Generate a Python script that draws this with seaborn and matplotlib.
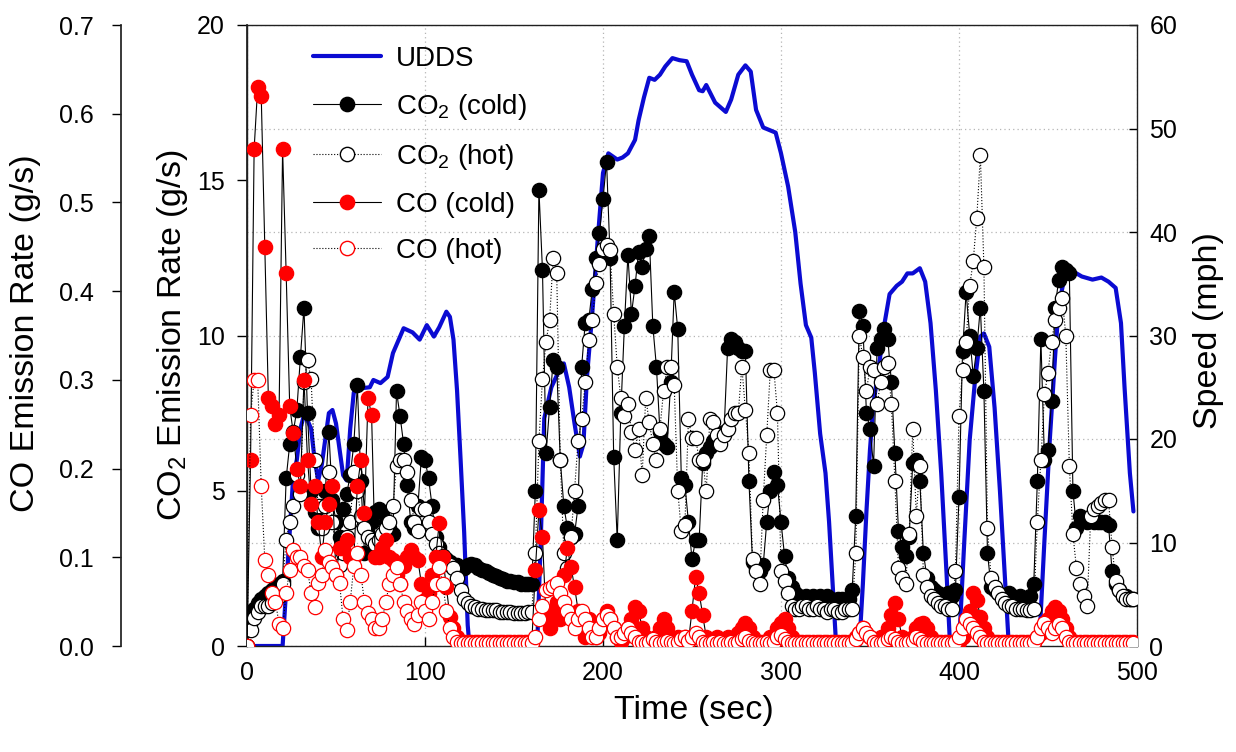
import numpy as np
import matplotlib
matplotlib.use("Agg")
import matplotlib.pyplot as plt
import seaborn as sns
from matplotlib.lines import Line2D
from matplotlib.ticker import FormatStrFormatter

sns.set_theme(style="ticks", rc={"axes.edgecolor": "black", "text.color": "black",
                                 "xtick.color": "black", "ytick.color": "black",
                                 "axes.labelcolor": "black"})
plt.rcParams['font.family'] = ['Liberation Sans', 'DejaVu Sans']
plt.rcParams['mathtext.default'] = 'regular'

# ---------------- data ----------------
# time axis of the emission series (s)
time_s = np.arange(0, 500, 2)

co2_cold = [
    0.0, 0.8, 1.2, 1.4, 1.5, 1.6, 1.7, 1.8, 1.9, 2.0,
    2.1, 5.4, 6.5, 6.9, 7.6, 9.3, 10.9, 7.5, 5.0, 4.3,
    3.8, 4.5, 5.0, 6.9, 4.7, 4.0, 3.5, 4.4, 4.9, 5.5,
    6.5, 8.4, 5.3, 3.0, 3.6, 4.0, 4.3, 4.4, 4.3, 4.0,
    3.8, 3.6, 8.2, 7.4, 6.5, 5.2, 4.0, 3.8, 4.5, 6.1,
    6.0, 5.4, 4.5, 3.5, 3.2, 2.9, 2.8, 2.7, 2.6, 2.6,
    2.5, 2.5, 2.6, 2.65, 2.6, 2.5, 2.45, 2.4, 2.35, 2.3,
    2.25, 2.2, 2.15, 2.1, 2.1, 2.05, 2.05, 2.0, 2.0, 2.0,
    2.0, 5.0, 14.7, 12.1, 6.2, 7.7, 9.2, 9.0, 6.0, 4.5,
    3.8, 3.5, 3.6, 4.5, 9.0, 10.4, 10.5, 11.5, 12.5, 13.3,
    14.4, 15.6, 12.5, 6.1, 3.4, 7.5, 10.3, 12.6, 10.7, 11.6,
    12.7, 12.2, 12.8, 13.2, 10.3, 9.0, 6.9, 6.5, 6.4, 8.5,
    11.4, 10.2, 5.4, 5.2, 4.0, 2.8, 3.4, 3.4, 5.9, 6.2,
    6.4, 6.6, 6.7, 6.8, 6.9, 9.6, 9.9, 9.8, 9.6, 9.5,
    9.5, 5.3, 2.7, 2.5, 2.4, 2.6, 4.0, 5.0, 5.6, 5.2,
    4.0, 2.9, 2.2, 1.9, 1.7, 1.6, 1.5, 1.6, 1.5, 1.6,
    1.5, 1.6, 1.5, 1.6, 1.5, 1.4, 1.5, 1.5, 1.4, 1.5,
    1.8, 4.2, 10.8, 10.3, 7.5, 7.0, 5.8, 9.6, 9.9, 10.2,
    9.9, 8.5, 6.2, 3.7, 3.2, 2.9, 3.5, 5.9, 6.0, 5.3,
    3.0, 2.2, 1.9, 1.8, 1.7, 1.6, 1.6, 1.7, 1.6, 1.8,
    4.8, 9.5, 11.4, 10.0, 8.7, 9.6, 10.9, 8.2, 3.0, 1.9,
    1.8, 1.7, 1.6, 1.6, 1.7, 1.6, 1.5, 1.6, 1.5, 1.5,
    1.6, 2.0, 5.3, 9.9, 6.0, 6.3, 7.9, 10.9, 11.8, 12.2,
    12.1, 12.0, 5.0, 3.8, 4.2, 4.1, 4.0, 4.1, 4.0, 4.0,
    4.0, 4.0, 3.9, 2.4, 2.0, 1.8, 1.6, 1.6, 1.5, 1.5,
]

co2_hot = [
    0.0, 0.5, 0.9, 1.1, 1.3, 1.3, 1.3, 1.4, 1.5, 1.6,
    2.0, 3.4, 4.0, 4.5, 5.5, 4.9, 8.5, 9.2, 8.6, 6.0,
    4.5, 3.8, 4.5, 5.6, 4.0, 3.0, 2.6, 3.0, 3.5, 4.0,
    5.6, 5.0, 4.2, 3.8, 3.5, 3.4, 3.3, 3.4, 3.6, 3.8,
    4.0, 4.5, 5.8, 6.0, 6.0, 5.6, 4.7, 4.0, 3.7, 4.4,
    4.4, 4.0, 3.6, 3.3, 3.0, 2.9, 2.7, 2.6, 2.5, 2.2,
    1.8, 1.5, 1.4, 1.3, 1.25, 1.2, 1.2, 1.15, 1.15, 1.15,
    1.15, 1.1, 1.1, 1.1, 1.1, 1.05, 1.05, 1.05, 1.05, 1.1,
    1.1, 3.0, 6.6, 8.6, 9.8, 10.5, 12.5, 12.0, 6.0, 3.0,
    2.5, 3.5, 5.0, 6.6, 7.3, 8.5, 9.85, 10.5, 11.7, 12.3,
    12.8, 12.9, 12.75, 10.7, 9.0, 8.0, 7.4, 7.8, 6.9, 6.3,
    7.0, 5.5, 8.0, 7.2, 6.5, 6.0, 7.0, 8.2, 9.0, 9.0,
    8.4, 5.0, 3.7, 3.9, 7.3, 6.7, 6.7, 6.0, 6.0, 5.0,
    7.3, 7.2, 6.8, 6.5, 6.8, 7.0, 7.3, 7.5, 7.5, 9.0,
    7.6, 6.2, 2.8, 2.4, 2.0, 4.7, 6.8, 8.9, 8.9, 7.5,
    2.4, 2.1, 1.7, 1.3, 1.2, 1.2, 1.3, 1.3, 1.2, 1.2,
    1.3, 1.2, 1.2, 1.1, 1.2, 1.2, 1.1, 1.1, 1.2, 1.2,
    1.2, 3.0, 10.0, 9.3, 8.2, 9.0, 8.9, 7.8, 8.5, 9.0,
    9.1, 7.8, 5.3, 2.5, 2.2, 2.0, 3.6, 7.0, 4.2, 5.8,
    2.3, 1.9, 1.6, 1.5, 1.4, 1.3, 1.3, 1.2, 1.2, 2.4,
    7.4, 8.9, 9.8, 11.6, 12.4, 13.8, 15.8, 12.2, 3.8, 2.2,
    1.9, 1.7, 1.5, 1.4, 1.3, 1.3, 1.2, 1.2, 1.2, 1.15,
    1.15, 1.2, 4.0, 6.0, 8.1, 8.8, 9.8, 10.5, 10.9, 11.2,
    10.0, 5.8, 3.6, 2.5, 2.0, 1.6, 1.3, 4.2, 4.4, 4.5,
    4.6, 4.7, 4.7, 3.2, 2.1, 1.8, 1.6, 1.5, 1.5, 1.5,
]

co_cold = [
    0.0, 0.21, 0.56, 0.63, 0.62, 0.45, 0.28, 0.27, 0.25, 0.26,
    0.56, 0.42, 0.27, 0.24, 0.2, 0.18, 0.30, 0.21, 0.16, 0.18,
    0.14, 0.10, 0.14, 0.16, 0.18, 0.08, 0.11, 0.11, 0.12, 0.10,
    0.10, 0.18, 0.21, 0.15, 0.28, 0.26, 0.10, 0.10, 0.11, 0.12,
    0.10, 0.097, 0.08, 0.07, 0.09, 0.10, 0.108, 0.10, 0.097, 0.07,
    0.052, 0.06, 0.08, 0.10, 0.139, 0.10, 0.067, 0.033, 0.02, 0.01,
    0.004, 0.004, 0.004, 0.004, 0.004, 0.004, 0.004, 0.004, 0.004, 0.004,
    0.004, 0.004, 0.004, 0.004, 0.004, 0.004, 0.004, 0.004, 0.004, 0.004,
    0.004, 0.086, 0.153, 0.123, 0.03, 0.02, 0.04, 0.05, 0.03, 0.08,
    0.11, 0.089, 0.067, 0.04, 0.02, 0.01, 0.03, 0.02, 0.01, 0.015,
    0.03, 0.04, 0.03, 0.02, 0.01, 0.005, 0.01, 0.02, 0.03, 0.044,
    0.04, 0.02, 0.01, 0.005, 0.005, 0.01, 0.02, 0.03, 0.02, 0.01,
    0.005, 0.01, 0.005, 0.01, 0.005, 0.04, 0.078, 0.06, 0.035, 0.01,
    0.005, 0.005, 0.01, 0.005, 0.005, 0.01, 0.005, 0.01, 0.015, 0.02,
    0.026, 0.02, 0.01, 0.005, 0.005, 0.005, 0.005, 0.01, 0.01, 0.02,
    0.026, 0.03, 0.02, 0.01, 0.005, 0.004, 0.004, 0.004, 0.004, 0.004,
    0.004, 0.004, 0.005, 0.004, 0.004, 0.005, 0.004, 0.004, 0.005, 0.004,
    0.005, 0.01, 0.015, 0.02, 0.015, 0.01, 0.005, 0.005, 0.01, 0.005,
    0.02, 0.035, 0.048, 0.03, 0.01, 0.005, 0.005, 0.01, 0.02, 0.025,
    0.026, 0.02, 0.01, 0.005, 0.005, 0.004, 0.004, 0.005, 0.004, 0.004,
    0.005, 0.01, 0.02, 0.04, 0.06, 0.052, 0.033, 0.02, 0.01, 0.005,
    0.004, 0.004, 0.005, 0.004, 0.004, 0.005, 0.004, 0.004, 0.005, 0.004,
    0.004, 0.005, 0.01, 0.015, 0.02, 0.03, 0.04, 0.044, 0.04, 0.03,
    0.02, 0.01, 0.005, 0.004, 0.004, 0.005, 0.004, 0.004, 0.005, 0.004,
    0.004, 0.004, 0.005, 0.004, 0.004, 0.005, 0.004, 0.004, 0.004, 0.004,
]

co_hot = [
    0.0, 0.26, 0.30, 0.30, 0.18, 0.097, 0.08, 0.06, 0.05, 0.025,
    0.02, 0.06, 0.086, 0.108, 0.10, 0.10, 0.09, 0.086, 0.06, 0.044,
    0.071, 0.08, 0.108, 0.095, 0.089, 0.08, 0.071, 0.03, 0.018, 0.05,
    0.09, 0.105, 0.08, 0.05, 0.037, 0.03, 0.02, 0.02, 0.03, 0.05,
    0.07, 0.08, 0.089, 0.07, 0.05, 0.04, 0.03, 0.025, 0.035, 0.05,
    0.04, 0.03, 0.05, 0.07, 0.089, 0.07, 0.04, 0.02, 0.01, 0.005,
    0.003, 0.003, 0.003, 0.003, 0.003, 0.003, 0.003, 0.003, 0.003, 0.003,
    0.003, 0.003, 0.003, 0.003, 0.003, 0.003, 0.003, 0.003, 0.003, 0.003,
    0.003, 0.01, 0.03, 0.045, 0.063, 0.065, 0.068, 0.071, 0.06, 0.05,
    0.04, 0.03, 0.02, 0.03, 0.04, 0.03, 0.02, 0.01, 0.01, 0.02,
    0.03, 0.035, 0.03, 0.02, 0.01, 0.01, 0.015, 0.02, 0.015, 0.01,
    0.005, 0.004, 0.003, 0.005, 0.008, 0.005, 0.003, 0.004, 0.006, 0.004,
    0.003, 0.005, 0.008, 0.01, 0.006, 0.01, 0.015, 0.01, 0.005, 0.003,
    0.003, 0.004, 0.003, 0.005, 0.003, 0.003, 0.004, 0.003, 0.005, 0.008,
    0.01, 0.006, 0.004, 0.003, 0.003, 0.003, 0.004, 0.003, 0.005, 0.01,
    0.012, 0.008, 0.005, 0.003, 0.003, 0.003, 0.003, 0.003, 0.003, 0.003,
    0.003, 0.003, 0.003, 0.003, 0.003, 0.003, 0.003, 0.003, 0.003, 0.003,
    0.003, 0.008, 0.015, 0.02, 0.015, 0.01, 0.005, 0.003, 0.003, 0.005,
    0.008, 0.01, 0.008, 0.005, 0.003, 0.003, 0.004, 0.006, 0.01, 0.008,
    0.005, 0.003, 0.003, 0.003, 0.003, 0.003, 0.003, 0.003, 0.003, 0.005,
    0.01, 0.02, 0.03, 0.025, 0.02, 0.015, 0.01, 0.005, 0.003, 0.003,
    0.003, 0.003, 0.003, 0.003, 0.003, 0.003, 0.003, 0.003, 0.003, 0.003,
    0.003, 0.005, 0.01, 0.02, 0.026, 0.02, 0.015, 0.02, 0.025, 0.02,
    0.01, 0.005, 0.003, 0.003, 0.003, 0.003, 0.003, 0.003, 0.003, 0.003,
    0.003, 0.003, 0.003, 0.003, 0.003, 0.003, 0.003, 0.003, 0.003, 0.003,
]

# UDDS speed trace (time s, speed mph)
speed_time = [0, 20, 22, 24, 26, 28, 30, 32, 34, 36, 38, 40, 42, 44, 46, 48, 50, 52, 54,
              56, 58, 60, 64, 69, 71, 75, 79, 82, 88, 93, 97, 101, 105, 108, 112, 114,
              116, 118, 120, 122, 124, 125, 163, 165, 167, 171, 175, 178, 181, 184, 187,
              189, 191, 194, 197, 200, 203, 208, 211, 214, 218, 220, 223, 226, 229, 232,
              235, 239, 243, 247, 250, 254, 256, 258, 263, 269, 272, 276, 280, 283, 286,
              290, 297, 300, 304, 308, 311, 314, 317, 319, 322, 325, 327, 329, 331, 344,
              346, 348, 350, 352, 355, 358, 361, 365, 368, 371, 374, 378, 381, 384, 387,
              390, 393, 395, 400, 403, 406, 409, 412, 414, 417, 420, 423, 426, 428, 445,
              448, 451, 454, 456, 460, 465, 469, 475, 480, 484, 488, 491, 493, 496, 498]
speed_mph = [0, 0, 5.5, 11, 16.5, 18, 21, 22.3, 21.8, 21, 18, 16, 17.5, 20, 22.5, 22.8, 21.5,
             19, 16.5, 16, 21, 24.5, 24.9, 25, 25.7, 25.4, 26, 28.3, 30.7, 30.3, 29.6, 31,
             29.9, 30.8, 32.3, 31.8, 29.6, 24.7, 18, 11, 2, 0, 0, 10, 22, 25, 26.5, 27.3,
             25, 21.5, 18.3, 19.5, 26, 32.2, 39.2, 45.7, 47.6, 47, 47.2, 47.6, 48.9, 50.8,
             53, 54.9, 54.7, 55.2, 56, 56.8, 56.6, 56.5, 55.2, 53.7, 53.6, 54.2, 52.5, 51.6,
             52.8, 55.2, 56.1, 55.5, 51.8, 50.1, 49.6, 47.6, 44.4, 40, 35, 31, 29.8, 26.4,
             20.5, 16.7, 12, 6, 0, 0, 6, 13, 19, 23.5, 27, 31, 34, 34.8, 35.2, 36, 36, 36.5,
             35.2, 31.2, 24.7, 16.7, 7, 0, 0, 10.2, 19.9, 25.7, 29.9, 30.2, 28.9, 23, 15,
             6, 0, 0, 10.2, 19.9, 28, 32.8, 36.3, 36.1, 35.7, 35.4, 35.6, 35.2, 34.6, 31.2,
             25, 16.7, 13]

x_ticks = [0, 100, 200, 300, 400, 500]
co2_ticks = [0, 5, 10, 15, 20]
co_ticks = [0.0, 0.1, 0.2, 0.3, 0.4, 0.5, 0.6, 0.7]
speed_ticks = [0, 10, 20, 30, 40, 50, 60]
legend_labels = ["UDDS", "CO$_2$ (cold)", "CO$_2$ (hot)", "CO (cold)", "CO (hot)"]

# ---------------- figure ----------------
W, H = 1236, 752
BLUE = "#0b0bd2"
RED = "#ff0000"
fig = plt.figure(figsize=(W / 100, H / 100), dpi=100)
L, R, T, B = 247, 1137, 25, 646
ax_spd = fig.add_axes([L / W, 1 - B / H, (R - L) / W, (B - T) / H])
ax_co2 = ax_spd.twinx()
ax_co = ax_spd.twinx()

MS = 10.3
MEW = 0.9
LW = 0.8

sns.lineplot(x=speed_time, y=speed_mph, ax=ax_spd, color=BLUE, linewidth=3.0,
             estimator=None, sort=False, legend=False)

sns.lineplot(x=time_s, y=co2_cold, ax=ax_co2, color="black", linewidth=LW,
             marker="o", markersize=MS, markerfacecolor="black",
             markeredgecolor="black", markeredgewidth=MEW,
             estimator=None, sort=False, legend=False)
sns.lineplot(x=time_s, y=co2_hot, ax=ax_co2, color="black", linewidth=LW, linestyle=":",
             marker="o", markersize=MS, markerfacecolor="white",
             markeredgecolor="black", markeredgewidth=MEW,
             estimator=None, sort=False, legend=False)
sns.lineplot(x=time_s, y=co_cold, ax=ax_co, color="black", linewidth=LW,
             marker="o", markersize=MS, markerfacecolor=RED,
             markeredgecolor=RED, markeredgewidth=MEW,
             estimator=None, sort=False, legend=False)
sns.lineplot(x=time_s, y=co_hot, ax=ax_co, color="black", linewidth=LW, linestyle=":",
             marker="o", markersize=MS, markerfacecolor="white",
             markeredgecolor=RED, markeredgewidth=MEW,
             estimator=None, sort=False, legend=False)

# limits
ax_spd.set_xlim(0, 500)
ax_spd.set_ylim(0, 60)
ax_co2.set_ylim(0, 20)
ax_co.set_ylim(0, 0.7)
for a in (ax_spd, ax_co2, ax_co):
    a.set_xlabel("")
    a.set_ylabel("")

TICK_FS = 18
# speed axis (host, right side)
ax_spd.set_xticks(x_ticks)
ax_spd.set_yticks(speed_ticks)
ax_spd.yaxis.tick_right()
ax_spd.tick_params(axis="x", direction="in", length=6.5, width=1, labelsize=TICK_FS,
                   pad=11, bottom=True, top=False)
ax_spd.tick_params(axis="y", direction="in", length=6, width=1, labelsize=TICK_FS,
                   pad=9, right=True, left=False, labelright=True, labelleft=False)
ax_spd.grid(True, linestyle=(0, (1, 2.5)), color="#b5b5b5", linewidth=0.9)
for s in ax_spd.spines.values():
    s.set_color("#202020")
    s.set_linewidth(1.0)

# CO2 axis (left)
ax_co2.yaxis.tick_left()
ax_co2.set_yticks(co2_ticks)
ax_co2.tick_params(axis="y", direction="out", length=7, width=1, labelsize=TICK_FS,
                   pad=9, left=True, right=False, labelleft=True, labelright=False)
for k in ("top", "bottom", "right"):
    ax_co2.spines[k].set_visible(False)
ax_co2.spines["left"].set_color("#202020")

# CO axis (outer left)
ax_co.yaxis.tick_left()
ax_co.spines["left"].set_position(("axes", (121 - L) / (R - L)))
ax_co.spines["left"].set_visible(True)
ax_co.spines["left"].set_color("#202020")
for k in ("top", "bottom", "right"):
    ax_co.spines[k].set_visible(False)
ax_co.set_yticks(co_ticks)
ax_co.yaxis.set_major_formatter(FormatStrFormatter("%.1f"))
ax_co.tick_params(axis="y", direction="out", length=6.5, width=1, labelsize=TICK_FS,
                  pad=13, left=True, right=False, labelleft=True, labelright=False)

# axis titles
LAB_FS = 24.5
fig.text(26 / W, 1 - 333 / H, "CO Emission Rate (g/s)", rotation=90,
         ha="center", va="center", fontsize=LAB_FS)
fig.text(172 / W, 1 - 335 / H, "CO$_2$ Emission Rate (g/s)", rotation=90,
         ha="center", va="center", fontsize=LAB_FS)
fig.text(1208 / W, 1 - 331 / H, "Speed (mph)", rotation=90,
         ha="center", va="center", fontsize=LAB_FS)
fig.text(694 / W, 1 - 710 / H, "Time (sec)", ha="center", va="center", fontsize=LAB_FS)

# legend
handles = [
    Line2D([], [], color=BLUE, linewidth=3.0),
    Line2D([], [], color="black", linewidth=LW, marker="o", markersize=MS,
           markerfacecolor="black", markeredgecolor="black"),
    Line2D([], [], color="black", linewidth=LW, linestyle=":", marker="o", markersize=MS,
           markerfacecolor="white", markeredgecolor="black"),
    Line2D([], [], color="black", linewidth=LW, marker="o", markersize=MS,
           markerfacecolor=RED, markeredgecolor=RED),
    Line2D([], [], color="black", linewidth=LW, linestyle=":", marker="o", markersize=MS,
           markerfacecolor="white", markeredgecolor=RED),
]
ax_co.legend(handles, legend_labels, loc="upper left",
             bbox_to_anchor=(313 / W, 1 - 46 / H), bbox_transform=fig.transFigure,
             frameon=False, fontsize=20, handlelength=2.45, handletextpad=0.55,
             labelspacing=0.72, borderpad=0, borderaxespad=0)

fig.savefig("out.png", dpi=100)
